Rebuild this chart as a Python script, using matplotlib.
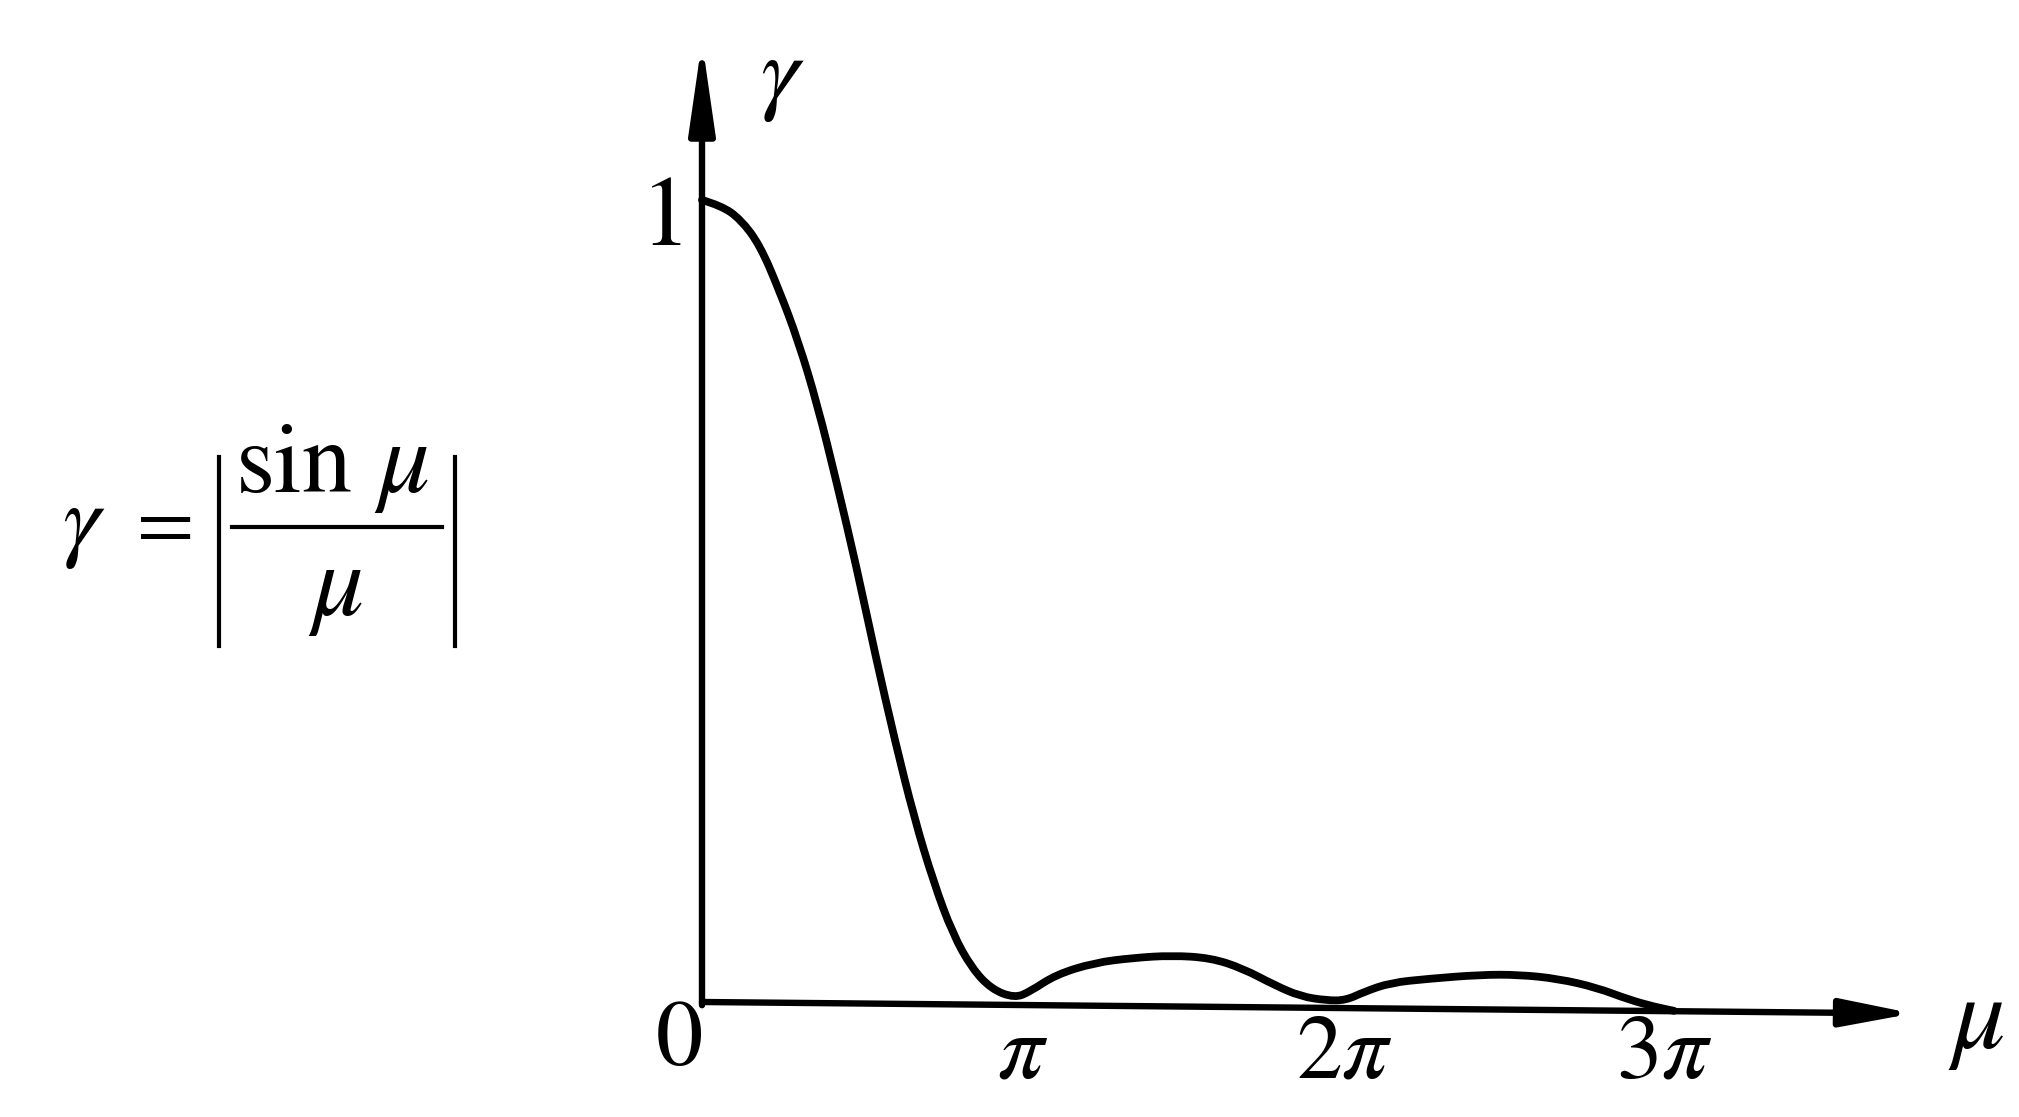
import matplotlib
matplotlib.use('Agg')
import matplotlib.pyplot as plt
from matplotlib.path import Path
from matplotlib.patches import PathPatch
from matplotlib.lines import Line2D

plt.rcParams['mathtext.fontset'] = 'stix'
plt.rcParams['font.family'] = ['Liberation Serif', 'DejaVu Serif']

# Curve (x in units of pi, y = gamma)
mu_over_pi = [0.0, 0.060, 0.120, 0.180, 0.240, 0.300, 0.360, 0.420, 0.481, 0.541,
              0.601, 0.661, 0.721, 0.781, 0.841, 0.902, 0.974, 1.022, 1.102, 1.223,
              1.343, 1.463, 1.584, 1.684, 1.784, 1.865, 1.945, 2.005, 2.065, 2.145,
              2.265, 2.426, 2.546, 2.667, 2.787, 2.887, 2.968, 3.028]
gamma = [1.0, 0.993, 0.976, 0.944, 0.888, 0.824, 0.744, 0.647, 0.543, 0.431,
         0.326, 0.230, 0.150, 0.085, 0.042, 0.016, 0.005, 0.013, 0.034, 0.049,
         0.055, 0.058, 0.055, 0.042, 0.021, 0.007, 0.002, 0.002, 0.013, 0.024,
         0.029, 0.034, 0.034, 0.029, 0.018, 0.003, -0.006, -0.011]

x_tick_pos = [1, 2, 3]
x_tick_labels = [r'$\pi$', r'$2\pi$', r'$3\pi$']
origin_label = r'$0$'
y_tick_pos = [1]
y_tick_labels = [r'$1$']
x_name = r'$\mu$'
y_name = r'$\gamma$'

W, H, DPI = 2019, 1117, 100
fig = plt.figure(figsize=(W / DPI, H / DPI), dpi=DPI)
fig.patch.set_facecolor('white')
ax = fig.add_axes([0, 0, 1, 1])
ax.set_xlim(-2.187, 4.103)
ax.set_ylim(-0.1434, 1.2494)
ax.axis('off')

# axes with arrows
ax.annotate('', xy=(3.772, -0.0143), xytext=(0, 0),
            arrowprops=dict(arrowstyle='-|>,head_length=0.72,head_width=0.14',
                            lw=4.6, color='black', mutation_scale=60,
                            shrinkA=0, shrinkB=0))
ax.annotate('', xy=(0, 1.198), xytext=(0, -0.004),
            arrowprops=dict(arrowstyle='-|>,head_length=0.9,head_width=0.13',
                            lw=4.6, color='black', mutation_scale=60,
                            shrinkA=0, shrinkB=0))

# curve: smooth quadratic path through the read points
pts = list(zip(mu_over_pi, gamma))
verts = [pts[0]]
codes = [Path.MOVETO]
for i in range(1, len(pts) - 1):
    mid = ((pts[i][0] + pts[i + 1][0]) / 2, (pts[i][1] + pts[i + 1][1]) / 2)
    verts += [pts[i], mid]
    codes += [Path.CURVE3, Path.CURVE3]
verts.append(pts[-1])
codes.append(Path.LINETO)
ax.add_patch(PathPatch(Path(verts, codes), fill=False, edgecolor='black',
                       lw=5.6, capstyle='round', joinstyle='round'))

# tick labels
for p, lab in zip(x_tick_pos, x_tick_labels):
    ax.text(p, -0.067, lab, ha='center', va='center', fontsize=66)
ax.text(-0.072, -0.051, origin_label, ha='center', va='center', fontsize=68)
for p, lab in zip(y_tick_pos, y_tick_labels):
    ax.text(-0.128, p - 0.026, lab, ha='center', va='center', fontsize=72)

# axis names
ax.text(3.969, -0.027, x_name, ha='center', va='center', fontsize=76)
ax.text(0.249, 1.150, y_name, ha='center', va='center', fontsize=70)


# formula  gamma = | sin mu / mu |   (positions in pixels from top-left)
def fx(px):
    return px / W


def fy(py):
    return 1 - py / H


fig.text(fx(62), fy(549), r'$\gamma$', ha='left', va='baseline', fontsize=68)
fig.text(fx(158), fy(547), r'$=$', ha='center', va='baseline', fontsize=60)
fig.text(fx(235), fy(492), r'$\mathrm{sin}$', ha='left', va='baseline', fontsize=72)
fig.text(fx(374), fy(492), r'$\mu$', ha='left', va='baseline', fontsize=74)
fig.text(fx(336), fy(615), r'$\mu$', ha='center', va='baseline', fontsize=74)
fig.add_artist(Line2D([fx(232), fx(442)], [fy(527), fy(527)], color='black', lw=3.0))
fig.add_artist(Line2D([fx(219), fx(219)], [fy(457), fy(646)], color='black', lw=3.0))
fig.add_artist(Line2D([fx(455), fx(455)], [fy(457), fy(646)], color='black', lw=3.0))

fig.savefig('out.png', dpi=DPI, facecolor='white')
